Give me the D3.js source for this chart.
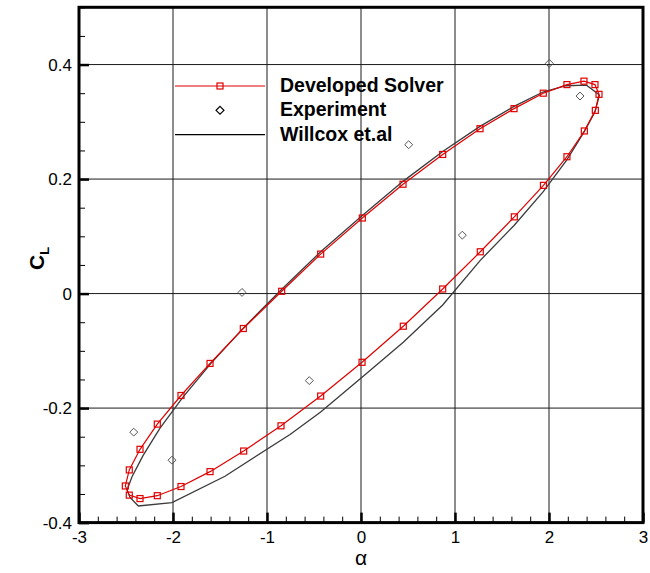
<!DOCTYPE html>
<html>
<head>
<meta charset="utf-8">
<script src="https://cdn.jsdelivr.net/npm/d3@7"></script>
<style>
  html, body { margin: 0; padding: 0; background: #fff; }
  svg { display: block; font-family: "Liberation Sans", Arial, sans-serif; }
</style>
</head>
<body>
<svg id="chart" width="650" height="573"></svg>
<script>
// Lift coefficient hysteresis loop: developed solver vs. experiment vs. Willcox et al.

// Developed solver (alpha, CL), ordered around the loop
const solverAlpha = [2.532, 2.489, 2.372, 2.191, 1.939, 1.628, 1.266, 0.869, 0.447, 0.014,
  -0.429, -0.844, -1.252, -1.606, -1.915, -2.167, -2.351, -2.465, -2.507, -2.465,
  -2.351, -2.167, -1.915, -1.606, -1.248, -0.851, -0.429, 0.011, 0.450, 0.869,
  1.269, 1.631, 1.941, 2.191, 2.376, 2.493, 2.532];
const solverCL = [0.348, 0.365, 0.371, 0.365, 0.350, 0.323, 0.288, 0.243, 0.191, 0.132,
  0.069, 0.004, -0.061, -0.122, -0.178, -0.228, -0.272, -0.308, -0.336, -0.352,
  -0.358, -0.353, -0.337, -0.311, -0.275, -0.231, -0.179, -0.120, -0.057, 0.008,
  0.073, 0.134, 0.189, 0.239, 0.284, 0.320, 0.348];

// Experimental data
const expAlpha = [2.003, 2.330, 0.507, 1.078, -1.266, -0.550, -2.418, -2.011];
const expCL = [0.402, 0.345, 0.260, 0.102, 0.002, -0.152, -0.242, -0.291];

// Willcox et al. reference curve
const willcoxAlpha = [2.537, 2.399, 2.181, 1.936, 1.628, 1.266, 0.869, 0.447, 0.011, -0.429,
  -0.840, -1.245, -1.596, -1.894, -2.138, -2.319, -2.436, -2.489, -2.457, -2.369,
  -2.011, -1.447, -0.755, -0.429, 0.011, 0.450, 0.869, 1.269, 1.628, 1.939,
  2.188, 2.372, 2.489, 2.537];
const willcoxCL = [0.347, 0.364, 0.363, 0.352, 0.327, 0.292, 0.248, 0.196, 0.136, 0.073,
  0.008, -0.059, -0.122, -0.181, -0.235, -0.283, -0.320, -0.343, -0.356, -0.371,
  -0.365, -0.319, -0.246, -0.207, -0.146, -0.085, -0.020, 0.058, 0.119, 0.178,
  0.233, 0.282, 0.317, 0.347];

// Axis ticks
const xTicks = [-3, -2, -1, 0, 1, 2, 3];
const yTicks = [-0.4, -0.2, 0, 0.2, 0.4];
const xGrid = [-2, -1, 0, 1, 2];
const yGrid = [-0.2, 0, 0.2, 0.4];

const legendNames = ["Developed Solver", "Experiment", "Willcox et.al"];

const svg = d3.select("#chart");
const plotLeft = 79, plotRight = 643, plotTop = 7.3, plotBottom = 522.6;

const x = d3.scaleLinear().domain([-3, 3]).range([plotLeft, plotRight]);
const y = d3.scaleLinear().domain([-0.4, 0.5]).range([plotBottom, plotTop]);

// Grid
const grid = svg.append("g").attr("stroke", "#1a1a1a").attr("stroke-width", 1);
grid.selectAll("line.gx").data(xGrid).join("line").attr("class", "gx")
  .attr("x1", d => x(d)).attr("x2", d => x(d)).attr("y1", plotTop).attr("y2", plotBottom);
grid.selectAll("line.gy").data(yGrid).join("line").attr("class", "gy")
  .attr("y1", d => y(d)).attr("y2", d => y(d)).attr("x1", plotLeft).attr("x2", plotRight);

// Axes with inward ticks
const xMinor = d3.range(-3, 3.001, 0.2).map(v => +v.toFixed(2));
const yMinor = d3.range(-0.4, 0.5001, 0.05).map(v => +v.toFixed(3));
const fontFam = "Liberation Sans, Arial, sans-serif";

svg.append("g").attr("transform", `translate(0,${plotBottom})`)
  .call(d3.axisTop(x).tickValues(xMinor).tickSize(6).tickFormat(""))
  .call(g => g.select(".domain").remove())
  .call(g => g.selectAll("line").attr("stroke", "#000").attr("stroke-width", 1));
svg.append("g").attr("transform", `translate(0,${plotBottom})`)
  .call(d3.axisTop(x).tickValues(xTicks).tickSize(10).tickFormat(""))
  .call(g => g.select(".domain").remove())
  .call(g => g.selectAll("line").attr("stroke", "#000").attr("stroke-width", 2.5));
svg.append("g").attr("transform", `translate(0,${plotBottom})`)
  .call(d3.axisBottom(x).tickValues(xTicks).tickSize(0).tickPadding(8)
    .tickFormat(d => String(d)))
  .call(g => g.select(".domain").remove())
  .call(g => g.selectAll("text").attr("font-size", 17).attr("fill", "#000")
    .attr("font-family", fontFam));

svg.append("g").attr("transform", `translate(${plotLeft},0)`)
  .call(d3.axisRight(y).tickValues(yMinor).tickSize(6).tickFormat(""))
  .call(g => g.select(".domain").remove())
  .call(g => g.selectAll("line").attr("stroke", "#000").attr("stroke-width", 1));
svg.append("g").attr("transform", `translate(${plotLeft},0)`)
  .call(d3.axisRight(y).tickValues(yTicks).tickSize(10).tickFormat(""))
  .call(g => g.select(".domain").remove())
  .call(g => g.selectAll("line").attr("stroke", "#000").attr("stroke-width", 2.5));
svg.append("g").attr("transform", `translate(${plotLeft},0)`)
  .call(d3.axisLeft(y).tickValues(yTicks).tickSize(0).tickPadding(7)
    .tickFormat(d => (d === 0 ? "0" : String(d.toFixed(1)))))
  .call(g => g.select(".domain").remove())
  .call(g => g.selectAll("text").attr("font-size", 17).attr("fill", "#000")
    .attr("font-family", fontFam));

// Frame
svg.append("rect").attr("x", plotLeft).attr("y", plotTop)
  .attr("width", plotRight - plotLeft).attr("height", plotBottom - plotTop)
  .attr("fill", "none").attr("stroke", "#000").attr("stroke-width", 3);

// Curves
const line = d3.line().x(d => x(d[0])).y(d => y(d[1]));
const willcox = willcoxAlpha.map((a, i) => [a, willcoxCL[i]]);
const solver = solverAlpha.map((a, i) => [a, solverCL[i]]);
const exper = expAlpha.map((a, i) => [a, expCL[i]]);

svg.append("path").datum(willcox).attr("d", line)
  .attr("fill", "none").attr("stroke", "#3a3a3a").attr("stroke-width", 1.3);
svg.append("path").datum(solver).attr("d", line)
  .attr("fill", "none").attr("stroke", "#e00000").attr("stroke-width", 1.2);

const sq = 6;
svg.append("g").selectAll("rect").data(solver.slice(0, -1)).join("rect")
  .attr("x", d => x(d[0]) - sq / 2).attr("y", d => y(d[1]) - sq / 2)
  .attr("width", sq).attr("height", sq)
  .attr("fill", "none").attr("stroke", "#e00000").attr("stroke-width", 1.2);

const diamond = d3.symbol().type(d3.symbolDiamond2).size(40);
svg.append("g").selectAll("path").data(exper).join("path")
  .attr("transform", d => `translate(${x(d[0])},${y(d[1])})`)
  .attr("d", diamond)
  .attr("fill", "none").attr("stroke", "#555").attr("stroke-width", 1);

// Legend
const lg = svg.append("g");
const lx1 = 175, lx2 = 265, lmid = 220, ly0 = 86, ldy = 24.3;
lg.append("line").attr("x1", lx1).attr("x2", lx2).attr("y1", ly0).attr("y2", ly0)
  .attr("stroke", "#e00000").attr("stroke-width", 1.2);
lg.append("rect").attr("x", lmid - sq / 2).attr("y", ly0 - sq / 2).attr("width", sq).attr("height", sq)
  .attr("fill", "none").attr("stroke", "#e00000").attr("stroke-width", 1.2);
lg.append("path").attr("transform", `translate(${lmid},${ly0 + ldy})`).attr("d", diamond)
  .attr("fill", "none").attr("stroke", "#000").attr("stroke-width", 1.2);
lg.append("line").attr("x1", lx1).attr("x2", lx2).attr("y1", ly0 + 2 * ldy).attr("y2", ly0 + 2 * ldy)
  .attr("stroke", "#000").attr("stroke-width", 1.2);
lg.selectAll("text").data(legendNames).join("text")
  .attr("x", 280).attr("y", (d, i) => 92 + i * ldy)
  .attr("font-size", 19.5).attr("font-weight", "bold").attr("fill", "#000")
  .text(d => d);

// Axis titles
svg.append("text").attr("x", x(0)).attr("y", 565).attr("text-anchor", "middle")
  .attr("font-size", 21).attr("fill", "#000").text("α");
const yt = svg.append("text").attr("transform", "translate(44,270) rotate(-90)")
  .attr("font-size", 21).attr("font-weight", "bold").attr("fill", "#000");
yt.append("tspan").text("C");
yt.append("tspan").attr("font-size", 13).attr("dy", 5).text("L");
</script>
</body>
</html>
